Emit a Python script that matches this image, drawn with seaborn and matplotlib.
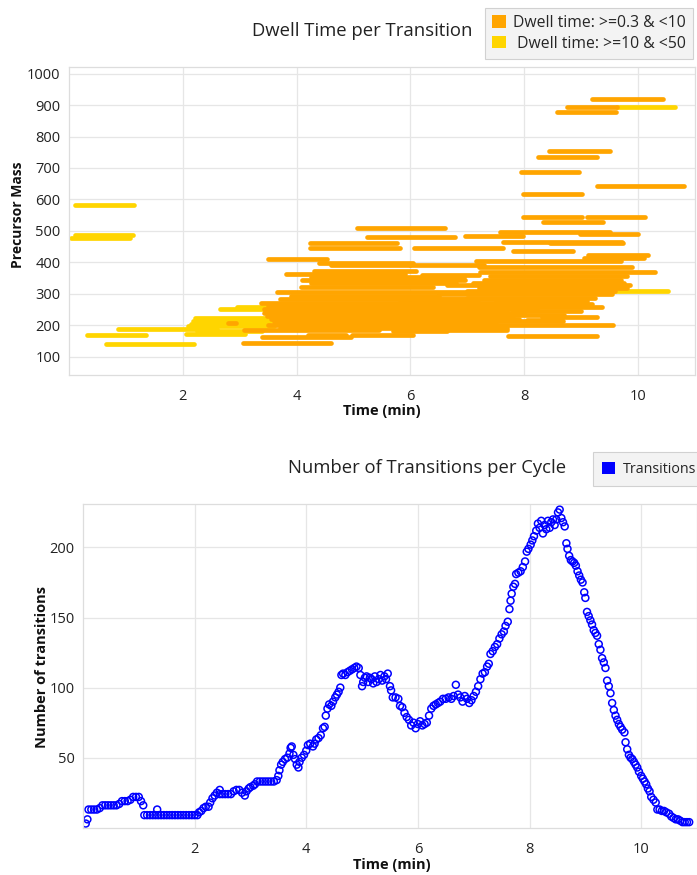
import numpy as np
import pandas as pd
import matplotlib
matplotlib.use("Agg")
import matplotlib.pyplot as plt
import seaborn as sns
from matplotlib.patches import Patch

# ---------------- data: dwell-time segments (top chart) ----------------
CAT_A = "Dwell time: >=0.3 & <10"
CAT_B = "Dwell time: >=10 & <50"

yellow_start = [0.10, 0.10, 0.03, 0.32, 0.65, 0.86, 2.65, 2.95, 2.22, 2.18, 2.15, 2.10, 2.05, 2.25, 9.63, 9.50]
yellow_end   = [1.14, 1.12, 1.07, 1.35, 2.20, 2.60, 3.60, 3.90, 3.60, 3.55, 3.50, 3.60, 3.10, 3.40, 10.65, 10.53]
yellow_mass  = [583, 488, 478, 167, 141, 188, 252, 258, 222, 213, 204, 196, 172, 180, 895, 310]

orange_start = [9.20, 8.75, 8.58, 8.44, 8.25, 7.95, 9.28, 7.98, 7.98, 9.10, 8.33, 5.07, 7.58, 8.98,
                6.96, 5.23, 7.62, 8.45, 4.23, 4.23, 6.07, 7.80, 9.12, 9.05, 3.50, 4.39, 4.60, 7.15,
                7.20, 6.00, 3.82, 4.30, 7.23, 6.20, 7.40, 4.25, 4.10, 7.30, 4.25, 7.10, 6.65, 4.07,
                7.20, 3.65, 7.00, 6.50, 3.90, 5.80, 3.70, 7.00, 7.50, 3.37, 3.50, 7.00, 7.50, 3.43,
                3.45, 7.80, 3.43, 3.48, 7.50, 8.32, 3.55, 3.60, 8.05, 3.60, 3.50, 3.70, 3.07, 5.90,
                5.70, 4.98, 4.20, 3.39, 7.72, 3.05, 2.80]
orange_end   = [10.44, 9.63, 9.62, 9.50, 9.28, 8.97, 10.80, 9.02, 9.02, 10.13, 9.38, 6.60, 9.50, 10.00,
                7.98, 6.78, 9.72, 9.73, 5.77, 5.82, 7.62, 8.86, 10.17, 10.10, 4.54, 6.05, 6.00, 9.70,
                9.90, 7.30, 5.90, 6.10, 10.30, 7.20, 9.80, 6.95, 6.96, 9.70, 6.80, 9.75, 9.86, 6.40,
                9.80, 7.50, 9.60, 9.55, 6.50, 7.20, 7.60, 9.25, 9.10, 7.80, 7.60, 9.20, 9.37, 8.23,
                7.70, 9.00, 8.00, 7.80, 8.70, 9.28, 7.90, 8.68, 8.67, 7.50, 9.56, 7.70, 5.44, 7.70,
                6.65, 6.05, 4.87, 4.95, 9.28, 4.60, 2.93]
orange_mass  = [920, 893, 877, 753, 736, 686, 641, 617, 543, 545, 527, 508, 495, 490,
                482, 479, 463, 460, 462, 446, 446, 437, 424, 413, 411, 398, 390, 404,
                385, 390, 363, 372, 368, 358, 355, 352, 342, 343, 335, 335, 326, 320,
                318, 304, 310, 300, 292, 283, 282, 287, 278, 270, 262, 266, 258, 251,
                243, 246, 237, 229, 233, 225, 220, 212, 215, 205, 199, 192, 185, 184,
                180, 170, 168, 161, 164, 142, 206]

# ---------------- data: transitions per cycle (bottom chart) ----------------
cycle_time = [0.05, 0.08, 0.10, 0.15, 0.20, 0.25, 0.30, 0.35, 0.40, 0.45, 0.50, 0.55, 0.60, 0.65,
              0.70, 0.75, 0.80, 0.85, 0.90, 0.95, 1.00, 1.04, 1.08, 1.10, 1.15, 1.20, 1.25, 1.30,
              1.33, 1.35, 1.40, 1.45, 1.50, 1.55, 1.60, 1.65, 1.70, 1.75, 1.80, 1.85, 1.90, 1.95,
              2.00, 2.05, 2.08, 2.12, 2.16, 2.20, 2.25, 2.28, 2.32, 2.36, 2.40, 2.45, 2.45, 2.50,
              2.55, 2.60, 2.65, 2.70, 2.75, 2.80, 2.85, 2.90, 2.93, 2.97, 3.00, 3.05, 3.08, 3.12,
              3.17, 3.22, 3.27, 3.32, 3.37, 3.42, 3.47, 3.50, 3.52, 3.55, 3.58, 3.62, 3.66, 3.70,
              3.72, 3.74, 3.77, 3.80, 3.83, 3.86, 3.88, 3.92, 3.96, 4.00, 4.03, 4.07, 4.12, 4.15,
              4.18, 4.22, 4.26, 4.30, 4.33, 4.35, 4.38, 4.41, 4.45, 4.48, 4.52, 4.55, 4.58, 4.61,
              4.63, 4.66, 4.70, 4.74, 4.78, 4.82, 4.86, 4.90, 4.94, 4.97, 5.00, 5.02, 5.05, 5.08,
              5.11, 5.14, 5.17, 5.20, 5.23, 5.26, 5.30, 5.33, 5.36, 5.40, 5.43, 5.46, 5.50, 5.52,
              5.55, 5.60, 5.65, 5.68, 5.72, 5.76, 5.80, 5.84, 5.88, 5.92, 5.96, 6.00, 6.04, 6.08,
              6.12, 6.16, 6.20, 6.24, 6.28, 6.32, 6.36, 6.40, 6.45, 6.50, 6.55, 6.60, 6.64, 6.68,
              6.72, 6.76, 6.80, 6.84, 6.88, 6.92, 6.96, 7.00, 7.04, 7.08, 7.12, 7.16, 7.20, 7.24,
              7.27, 7.30, 7.34, 7.38, 7.42, 7.46, 7.50, 7.54, 7.57, 7.61, 7.64, 7.66, 7.68, 7.71,
              7.74, 7.76, 7.80, 7.84, 7.88, 7.92, 7.95, 7.98, 8.02, 8.05, 8.08, 8.12, 8.15, 8.18,
              8.21, 8.24, 8.27, 8.30, 8.33, 8.36, 8.39, 8.42, 8.45, 8.48, 8.51, 8.54, 8.57, 8.60,
              8.63, 8.66, 8.68, 8.71, 8.74, 8.77, 8.80, 8.83, 8.86, 8.89, 8.92, 8.95, 8.98, 9.00,
              9.03, 9.06, 9.09, 9.12, 9.15, 9.18, 9.21, 9.24, 9.27, 9.30, 9.33, 9.36, 9.39, 9.42,
              9.45, 9.48, 9.51, 9.54, 9.57, 9.60, 9.63, 9.66, 9.70, 9.72, 9.75, 9.78, 9.81, 9.84,
              9.87, 9.90, 9.93, 9.96, 10.00, 10.03, 10.06, 10.09, 10.12, 10.15, 10.18, 10.22, 10.26, 10.29,
              10.33, 10.37, 10.41, 10.45, 10.50, 10.54, 10.58, 10.62, 10.66, 10.70, 10.74, 10.78, 10.82, 10.86]
n_transitions = [3, 6, 13, 13, 13, 13, 14, 16, 16, 16, 16, 16, 16, 17,
                 19, 19, 19, 20, 22, 22, 22, 19, 16, 9, 9, 9, 9, 9,
                 13, 9, 9, 9, 9, 9, 9, 9, 9, 9, 9, 9, 9, 9,
                 9, 9, 11, 12, 14, 15, 15, 18, 21, 23, 25, 27, 24, 24,
                 24, 24, 24, 26, 27, 27, 25, 23, 26, 28, 29, 30, 31, 33,
                 33, 33, 33, 33, 33, 33, 34, 37, 41, 45, 47, 49, 50, 53,
                 57, 58, 52, 49, 45, 43, 47, 50, 52, 55, 59, 60, 58, 60,
                 63, 64, 66, 71, 72, 80, 85, 88, 87, 90, 93, 95, 97, 100,
                 109, 110, 109, 111, 112, 113, 114, 115, 114, 109, 101, 104, 107, 108,
                 104, 107, 106, 103, 108, 104, 106, 109, 105, 108, 106, 110, 101, 98,
                 93, 93, 92, 87, 86, 82, 79, 77, 73, 75, 71, 74, 76, 73,
                 74, 75, 80, 85, 87, 88, 89, 90, 92, 92, 93, 92, 94, 102,
                 95, 93, 90, 94, 92, 89, 91, 94, 97, 101, 106, 110, 111, 115,
                 117, 124, 126, 129, 131, 135, 138, 140, 144, 147, 156, 162, 167, 172,
                 174, 181, 182, 183, 186, 190, 197, 199, 202, 205, 208, 212, 217, 214,
                 219, 210, 216, 213, 219, 214, 218, 220, 216, 220, 225, 227, 221, 218,
                 215, 203, 199, 194, 191, 190, 189, 187, 183, 180, 177, 175, 168, 164,
                 154, 151, 148, 145, 141, 139, 137, 131, 127, 121, 118, 114, 105, 101,
                 96, 89, 84, 80, 77, 74, 72, 70, 68, 61, 56, 52, 50, 49,
                 47, 45, 43, 40, 37, 35, 33, 31, 28, 26, 22, 20, 18, 13,
                 13, 12, 12, 11, 10, 8, 7, 6, 6, 5, 4, 4, 4, 4]

ORANGE = "#FFA500"
YELLOW = "#FFD500"
BLUE = "#0000FF"

sns.set_style("white")
plt.rcParams["font.family"] = ["Open Sans", "DejaVu Sans"]

fig = plt.figure(figsize=(6.97, 8.75), dpi=100)
ax1 = fig.add_axes([0.099, 0.571, 0.898, 0.352])
ax2 = fig.add_axes([0.119, 0.054, 0.881, 0.370])


def seg_frame(starts, ends, masses, cat):
    rows = []
    for i, (s, e, m) in enumerate(zip(starts, ends, masses)):
        rows.append({"seg": i, "time": s, "mass": m, "dwell": cat})
        rows.append({"seg": i, "time": e, "mass": m, "dwell": cat})
    return pd.DataFrame(rows)


df_y = seg_frame(yellow_start, yellow_end, yellow_mass, CAT_B)
df_o = seg_frame(orange_start, orange_end, orange_mass, CAT_A)

for df, col in [(df_y, YELLOW), (df_o, ORANGE)]:
    sns.lineplot(data=df, x="time", y="mass", units="seg", estimator=None, sort=False,
                 color=col, lw=3.4, solid_capstyle="round", legend=False, ax=ax1)

sns.scatterplot(x=cycle_time, y=n_transitions, ax=ax2, marker="o", s=25,
                color=BLUE, edgecolor=BLUE, linewidth=1.1, legend=False)
ax2.collections[-1].set_facecolor("none")

for ax in (ax1, ax2):
    ax.set_xlim(0, 11)
    ax.set_xticks([2, 4, 6, 8, 10])
    ax.grid(True, color="#e6e6e6", lw=0.9)
    ax.set_axisbelow(True)
    for sp in ax.spines.values():
        sp.set_color("#dddddd")
        sp.set_linewidth(0.9)
    ax.tick_params(length=0, labelsize=10.5, labelcolor="#222222")
    ax.tick_params(axis="x", pad=10)
    ax.tick_params(axis="y", pad=6)

ax1.set_ylim(40, 1020)
ax1.set_yticks(range(100, 1001, 100))
ax2.set_ylim(0, 231)
ax2.set_yticks([50, 100, 150, 200])

ax1.set_xlabel("Time (min)", fontsize=10.5, fontweight="bold", color="#111111")
ax1.set_ylabel("Precursor Mass", fontsize=10, fontweight="bold", color="#111111")
ax1.xaxis.set_label_coords(0.50, -0.093)
ax1.yaxis.set_label_coords(-0.071, 0.52)

ax2.set_xlabel("Time (min)", fontsize=10.5, fontweight="bold", color="#111111")
ax2.set_ylabel("Number of transitions", fontsize=10.5, fontweight="bold", color="#111111")
ax2.xaxis.set_label_coords(0.503, -0.092)
ax2.yaxis.set_label_coords(-0.056, 0.497)

fig.text(0.52, 0.965, "Dwell Time per Transition", ha="center", va="center",
         fontsize=13.3, color="#222222")
fig.text(0.613, 0.465, "Number of Transitions per Cycle", ha="center", va="center",
         fontsize=13.3, color="#222222")

leg1 = fig.legend(handles=[Patch(fc=ORANGE, ec="none", label=CAT_A),
                           Patch(fc=YELLOW, ec="none", label=" " + CAT_B)],
                  loc="upper left", bbox_to_anchor=(0.696, 0.991), frameon=True,
                  fancybox=False, facecolor="#f0f0f0", edgecolor="#c8c8c8",
                  fontsize=11.3, handlelength=0.85, handleheight=0.85, handletextpad=0.5,
                  borderpad=0.45, labelspacing=0.3, borderaxespad=0)
leg1.get_frame().set_linewidth(0.8)

leg2 = fig.legend(handles=[Patch(fc=BLUE, ec="none", label="Transitions")],
                  loc="upper left", bbox_to_anchor=(0.851, 0.483), frameon=True,
                  fancybox=False, facecolor="#f0f0f0", edgecolor="#c8c8c8",
                  fontsize=10.3, handlelength=0.9, handleheight=0.9, handletextpad=0.5,
                  borderpad=0.65, borderaxespad=0)
leg2.get_frame().set_linewidth(0.8)

fig.savefig("out.png", dpi=100)
